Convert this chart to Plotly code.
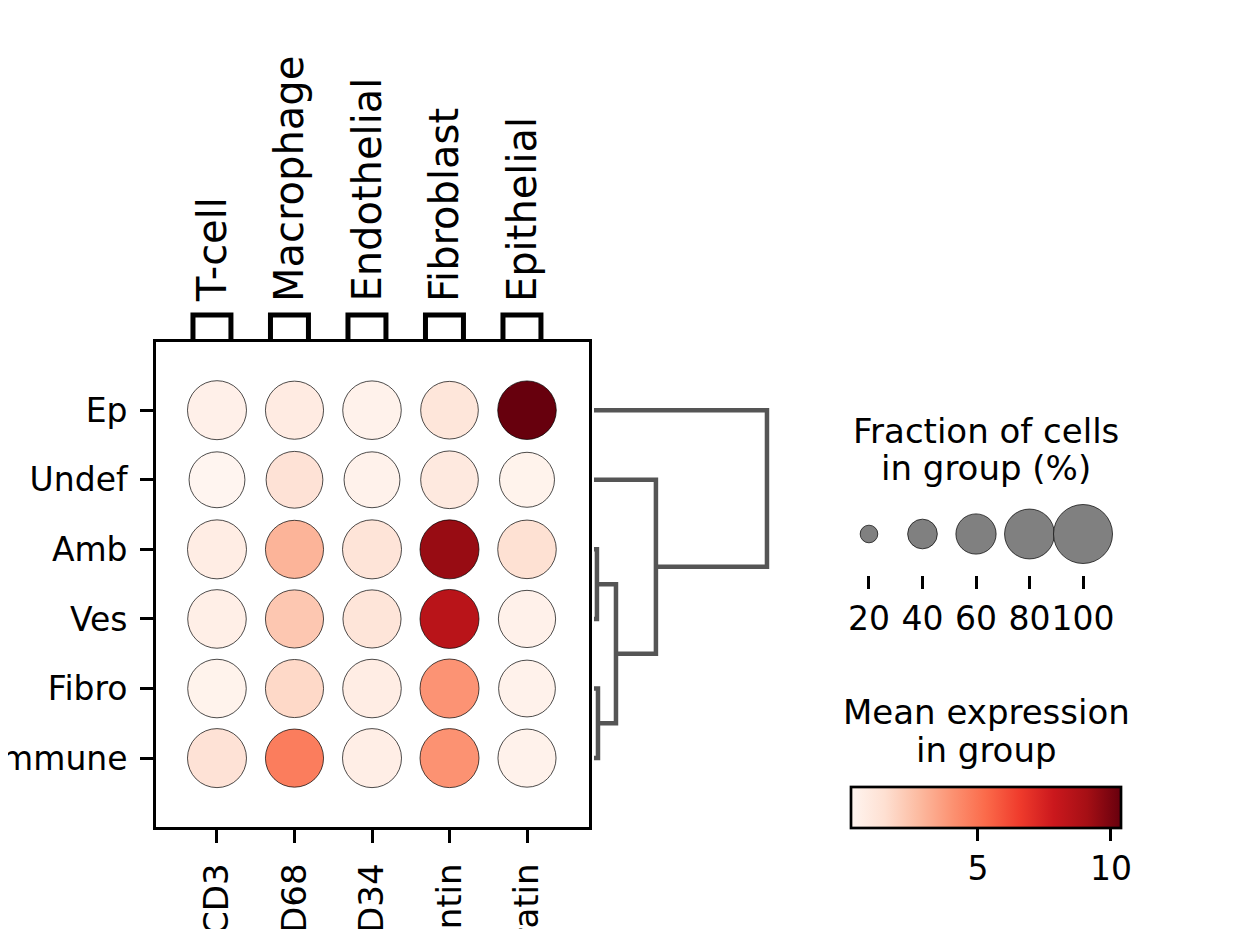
# Dot plot of marker genes per cluster, with dendrogram and legends
import plotly.graph_objects as go
from plotly.colors import sequential

W, H = 1245, 929
OFF = 8  # page body margin of the browser

# data
groups = ["Ep", "Undef", "Amb", "Ves", "Fibro", "Immune"]
genes = ["CD3", "CD68", "CD34", "Vimentin", "Keratin"]
cell_types = ["T-cell", "Macrophage", "Endothelial", "Fibroblast", "Epithelial"]

# mean expression in group (rows = groups, cols = genes)
mean_expr = [
    [0.53, 0.84, 0.43, 1.14, 10.38],
    [0.23, 1.35, 0.43, 0.94, 0.38],
    [0.74, 2.97, 1.25, 9.37, 1.45],
    [0.59, 2.36, 1.19, 8.45, 0.48],
    [0.38, 1.75, 0.74, 3.99, 0.43],
    [1.35, 4.70, 0.64, 4.04, 0.43],
]

# fraction of cells in group (%)
frac_pct = [
    [100, 98, 99, 97, 99],
    [93, 95, 93, 97, 91],
    [100, 98, 100, 100, 99],
    [99, 98, 98, 100, 96],
    [99, 98, 99, 100, 95],
    [100, 98, 100, 100, 98],
]

size_legend = [20, 40, 60, 80, 100]
cbar_ticks = [5, 10]

# dendrogram merges: (left, right, height); ints refer to earlier merges
dendro_merges = [
    ("Amb", "Ves", 0.17),
    ("Fibro", "Immune", 0.23),
    (0, 1, 1.27),
    ("Undef", 2, 3.58),
    ("Ep", 3, 10.0),
]


def px_x(p):
    return (p - OFF) / W


def px_y(p):
    return 1 - (p - OFF) / H


def dot(f):
    # scanpy style: area ~ frac**1.5
    return 59 * (f / 100) ** 0.75


FONT = "DejaVu Sans"
flat_expr = [v for row in mean_expr for v in row]
cmin, cmax = min(flat_expr), max(flat_expr)

fig = go.Figure()

# main dots
xs, ys, cs, ss = [], [], [], []
for r, g in enumerate(groups):
    for c, gene in enumerate(genes):
        xs.append(c)
        ys.append(r)
        cs.append(mean_expr[r][c])
        ss.append(dot(frac_pct[r][c]))

fig.add_trace(go.Scatter(
    x=xs, y=ys, mode="markers", xaxis="x", yaxis="y", showlegend=False,
    marker=dict(
        size=ss, color=cs, colorscale=sequential.Reds, cmin=cmin, cmax=cmax,
        opacity=1, line=dict(color="black", width=0.7),
        colorbar=dict(
            orientation="h", x=px_x(986), xanchor="center",
            len=270 / W, lenmode="fraction",
            thickness=41, thicknessmode="pixels",
            y=px_y(787), yanchor="top",
            outlinewidth=2.7, outlinecolor="black",
            tickvals=cbar_ticks, ticks="outside", ticklen=12, tickwidth=2.7,
            tickcolor="black", tickfont=dict(size=33, color="black", family=FONT),
            xpad=0, ypad=0,
        ),
    ),
    hoverinfo="skip",
))

# dendrogram
nodes = {g: (i, 0.0) for i, g in enumerate(groups)}
for k, (a, b, h) in enumerate(dendro_merges):
    ya, ha = nodes[a]
    yb, hb = nodes[b]
    fig.add_trace(go.Scatter(
        x=[ha, h, h, hb], y=[ya, ya, yb, yb], mode="lines",
        xaxis="x2", yaxis="y", showlegend=False, hoverinfo="skip",
        line=dict(color="#555555", width=4.5),
    ))
    nodes[k] = ((ya + yb) / 2, h)

# brackets above the columns
for i, ct in enumerate(cell_types):
    fig.add_trace(go.Scatter(
        x=[i - 0.31, i - 0.31, i + 0.18, i + 0.18], y=[0.05, 0.64, 0.64, 0.05],
        mode="lines", xaxis="x", yaxis="y4", showlegend=False, hoverinfo="skip",
        line=dict(color="black", width=5),
    ))
    fig.add_annotation(
        x=i - 0.07, xref="x", y=px_y(304), yref="paper",
        text=ct, textangle=-90, showarrow=False,
        xanchor="center", yanchor="bottom",
        font=dict(size=40, color="black", family=FONT),
    )

# size legend
fig.add_trace(go.Scatter(
    x=list(range(len(size_legend))), y=[0] * len(size_legend), mode="markers",
    xaxis="x3", yaxis="y3", showlegend=False, hoverinfo="skip",
    marker=dict(size=[dot(s) for s in size_legend], color="gray", opacity=1,
                line=dict(color="black", width=0.7)),
))

titles = [("Fraction of cells", 431), ("in group (%)", 468),
          ("Mean expression", 712), ("in group", 750)]
for t, yp in titles:
    fig.add_annotation(
        x=px_x(986), xref="paper", y=px_y(yp), yref="paper", text=t,
        showarrow=False, xanchor="center", yanchor="middle",
        font=dict(size=34, color="black", family=FONT),
    )

fig.update_layout(
    width=W, height=H, margin=dict(l=0, r=0, t=0, b=0, autoexpand=False),
    paper_bgcolor="white", plot_bgcolor="white",
    font=dict(family=FONT, color="black"),
    xaxis=dict(
        domain=[px_x(156), px_x(589)], range=[-0.787, 4.8],
        tickvals=list(range(len(genes))), ticktext=genes, tickangle=-90,
        ticks="outside", ticklen=13, tickwidth=2.7, tickcolor="black",
        showline=True, linecolor="black", linewidth=2.7, mirror=True,
        showgrid=False, zeroline=False, anchor="y", automargin=False,
        tickfont=dict(size=34), ticklabelstandoff=7,
    ),
    yaxis=dict(
        domain=[px_y(827), px_y(342)], range=[5.99, -0.98],
        tickvals=list(range(len(groups))), ticktext=groups,
        ticks="outside", ticklen=13, tickwidth=2.7, tickcolor="black",
        showline=True, linecolor="black", linewidth=2.7, mirror=True,
        showgrid=False, zeroline=False, anchor="x", automargin=False,
        tickfont=dict(size=33), ticklabelstandoff=6,
    ),
    xaxis2=dict(
        domain=[px_x(589), px_x(777)], range=[-0.289, 10.58],
        visible=False, anchor="y",
    ),
    xaxis3=dict(
        domain=[px_x(835), px_x(1117)], range=[-0.635, 4.635], anchor="y3",
        tickvals=list(range(len(size_legend))),
        ticktext=[str(s) for s in size_legend], tickangle=0,
        ticks="outside", ticklen=13, tickwidth=2.7, tickcolor="black",
        showline=False, showgrid=False, zeroline=False, automargin=False,
        tickfont=dict(size=33), ticklabelstandoff=1,
    ),
    yaxis3=dict(
        domain=[px_y(575), px_y(493)], range=[-1, 1], visible=False, anchor="x3",
    ),
    yaxis4=dict(
        domain=[px_y(342), px_y(300)], range=[0, 1], visible=False, anchor="x",
    ),
)

fig.write_html("out.html")
